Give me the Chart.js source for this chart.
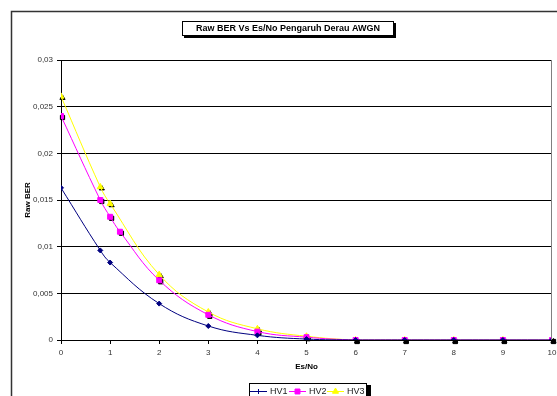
<!DOCTYPE html>
<html>
<head>
<meta charset="utf-8">
<script src="https://cdn.jsdelivr.net/npm/chart.js@4"></script>
<style>
  html, body { margin: 0; padding: 0; background: #fff; }
  #wrap { position: relative; width: 557px; height: 396px; overflow: hidden; }
</style>
</head>
<body>
<div id="wrap"><canvas id="berChart" width="557" height="396"></canvas></div>
<script>
// Data
const hv1X = [0, 0.8, 1, 2, 3, 4, 5, 6, 7, 8, 9, 10];
const hv1Y = [0.0163, 0.0096, 0.0083, 0.0039, 0.0015, 0.0005, 0.0001, 0, 0, 0, 0, 0];
const hv2X = [0, 0.8, 1, 1.2, 2, 3, 4, 5, 6, 7, 8, 9, 10];
const hv2Y = [0.024, 0.015, 0.0132, 0.0116, 0.0064, 0.0027, 0.0009, 0.0003, 0, 0, 0, 0, 0];
const hv3X = [0, 0.8, 1, 2, 3, 4, 5, 6, 7, 8, 9, 10];
const hv3Y = [0.0261, 0.0164, 0.0146, 0.0070, 0.0030, 0.0012, 0.0004, 0, 0, 0, 0, 0];

const yTickLabels = ['0', '0,005', '0,01', '0,015', '0,02', '0,025', '0,03'];
const xTickLabels = ['0', '1', '2', '3', '4', '5', '6', '7', '8', '9', '10'];

const chartTitle = 'Raw BER Vs Es/No Pengaruh Derau AWGN';

const toPoints = (xs, ys) => xs.map((x, i) => ({ x: x, y: ys[i] }));

// frame, title box, marker shadows and legend box (Excel style)
const excelDecor = {
  id: 'excelDecor',
  beforeDraw(chart) {
    const ctx = chart.ctx;
    ctx.save();
    ctx.fillStyle = '#fff';
    ctx.fillRect(0, 0, chart.width, chart.height);
    ctx.strokeStyle = '#333';
    ctx.lineWidth = 1.5;
    ctx.strokeRect(11.5, 11.5, 700, 500);
    ctx.restore();
  },
  beforeDatasetsDraw(chart) {
    // black drop shadow under the square and triangle markers
    const ctx = chart.ctx;
    ctx.save();
    [1, 2].forEach(i => {
      const ds = chart.data.datasets[i];
      chart.getDatasetMeta(i).data.forEach(pt => {
        ctx.fillStyle = '#000';
        ctx.strokeStyle = '#000';
        Chart.helpers.drawPoint(ctx, {
          pointStyle: ds.pointStyle, radius: ds.pointRadius - 0.5, rotation: 0, borderWidth: 1
        }, pt.x + 1.5, pt.y + 1.5);
      });
    });
    ctx.restore();
  },
  afterDraw(chart) {
    const ctx = chart.ctx;
    const area = chart.chartArea;
    ctx.save();
    // right border of plot area
    ctx.strokeStyle = '#808080';
    ctx.lineWidth = 1;
    ctx.beginPath();
    ctx.moveTo(area.right - 0.5, area.top);
    ctx.lineTo(area.right - 0.5, area.bottom);
    ctx.stroke();

    // title box with shadow
    ctx.fillStyle = '#000';
    ctx.fillRect(184, 23, 212, 15);
    ctx.fillStyle = '#fff';
    ctx.fillRect(182, 21, 212, 15);
    ctx.strokeStyle = '#000';
    ctx.strokeRect(182.5, 21.5, 211, 14);
    ctx.fillStyle = '#000';
    ctx.font = 'bold 9px "Liberation Sans", Arial, sans-serif';
    ctx.textAlign = 'center';
    ctx.textBaseline = 'middle';
    ctx.fillText(chartTitle, 288, 29);

    // legend
    ctx.fillStyle = '#000';
    ctx.fillRect(251, 385, 120, 20);
    ctx.fillStyle = '#fff';
    ctx.fillRect(249, 383, 118, 20);
    ctx.strokeStyle = '#000';
    ctx.strokeRect(249.5, 383.5, 117, 20);
    const starts = [250, 289, 327];
    chart.data.datasets.forEach((ds, i) => {
      const x0 = starts[i];
      const y = 391;
      ctx.strokeStyle = ds.borderColor;
      ctx.lineWidth = 1;
      ctx.beginPath();
      ctx.moveTo(x0, y + 0.5);
      ctx.lineTo(x0 + 17, y + 0.5);
      ctx.stroke();
      ctx.fillStyle = ds.pointBackgroundColor;
      ctx.strokeStyle = ds.pointBorderColor;
      Chart.helpers.drawPoint(ctx, {
        pointStyle: ds.legendStyle,
        radius: ds.pointRadius,
        rotation: 0,
        borderWidth: 1
      }, x0 + 8.5, y + 0.5);
      ctx.fillStyle = '#222';
      ctx.font = '9px "Liberation Sans", Arial, sans-serif';
      ctx.textAlign = 'left';
      ctx.textBaseline = 'middle';
      ctx.fillText(ds.label, x0 + 20, y + 1);
    });
    ctx.restore();
  }
};

const ctx = document.getElementById('berChart').getContext('2d');
new Chart(ctx, {
  type: 'scatter',
  data: {
    datasets: [
      {
        label: 'HV1',
        data: toPoints(hv1X, hv1Y),
        showLine: true,
        borderColor: '#000080',
        borderWidth: 1,
        pointStyle: 'rectRot',
        legendStyle: 'cross',
        pointRadius: 2.5,
        pointBackgroundColor: '#000080',
        pointBorderColor: '#000080',
        tension: 0.4
      },
      {
        label: 'HV2',
        data: toPoints(hv2X, hv2Y),
        showLine: true,
        borderColor: '#ff00ff',
        borderWidth: 1,
        pointStyle: 'rect',
        legendStyle: 'rect',
        pointRadius: 3.5,
        pointBackgroundColor: '#ff00ff',
        pointBorderColor: '#ff00ff',
        tension: 0.4
      },
      {
        label: 'HV3',
        data: toPoints(hv3X, hv3Y),
        showLine: true,
        borderColor: '#ffff00',
        borderWidth: 1,
        pointStyle: 'triangle',
        legendStyle: 'triangle',
        pointRadius: 3.5,
        pointBackgroundColor: '#ffff00',
        pointBorderColor: '#ffff00',
        tension: 0.4
      }
    ]
  },
  options: {
    responsive: false,
    animation: false,
    devicePixelRatio: 1,
    layout: { padding: { left: 0, top: 60, right: 2, bottom: 0 } },
    plugins: {
      legend: { display: false },
      title: { display: false },
      tooltip: { enabled: false }
    },
    scales: {
      x: {
        type: 'linear',
        min: 0,
        max: 10,
        afterFit: scale => {
          scale.height = 56;
          scale.paddingLeft = 0;
          scale.paddingRight = 0;
        },
        ticks: {
          stepSize: 1,
          color: '#333',
          padding: 4,
          maxRotation: 0,
          font: { family: '"Liberation Sans", Arial, sans-serif', size: 8 },
          callback: (value, index) => xTickLabels[index]
        },
        grid: {
          drawOnChartArea: false,
          drawTicks: true,
          tickLength: 4,
          color: '#000'
        },
        border: { display: true, color: '#000', width: 1 },
        title: {
          display: true,
          text: 'Es/No',
          color: '#000',
          padding: { top: 0, bottom: 24 },
          font: { family: '"Liberation Sans", Arial, sans-serif', size: 8, weight: 'bold' }
        }
      },
      y: {
        min: 0,
        max: 0.03,
        afterFit: scale => { scale.width = 61; },
        ticks: {
          stepSize: 0.005,
          color: '#333',
          padding: 4,
          font: { family: '"Liberation Sans", Arial, sans-serif', size: 8 },
          callback: (value, index) => yTickLabels[index]
        },
        grid: {
          color: '#000',
          lineWidth: 1,
          tickLength: 4
        },
        border: { display: true, color: '#000', width: 1 },
        title: {
          display: true,
          text: 'Raw BER',
          color: '#000',
          padding: { top: 23, bottom: 0 },
          font: { family: '"Liberation Sans", Arial, sans-serif', size: 8, weight: 'bold' }
        }
      }
    }
  },
  plugins: [excelDecor]
});
</script>
</body>
</html>
